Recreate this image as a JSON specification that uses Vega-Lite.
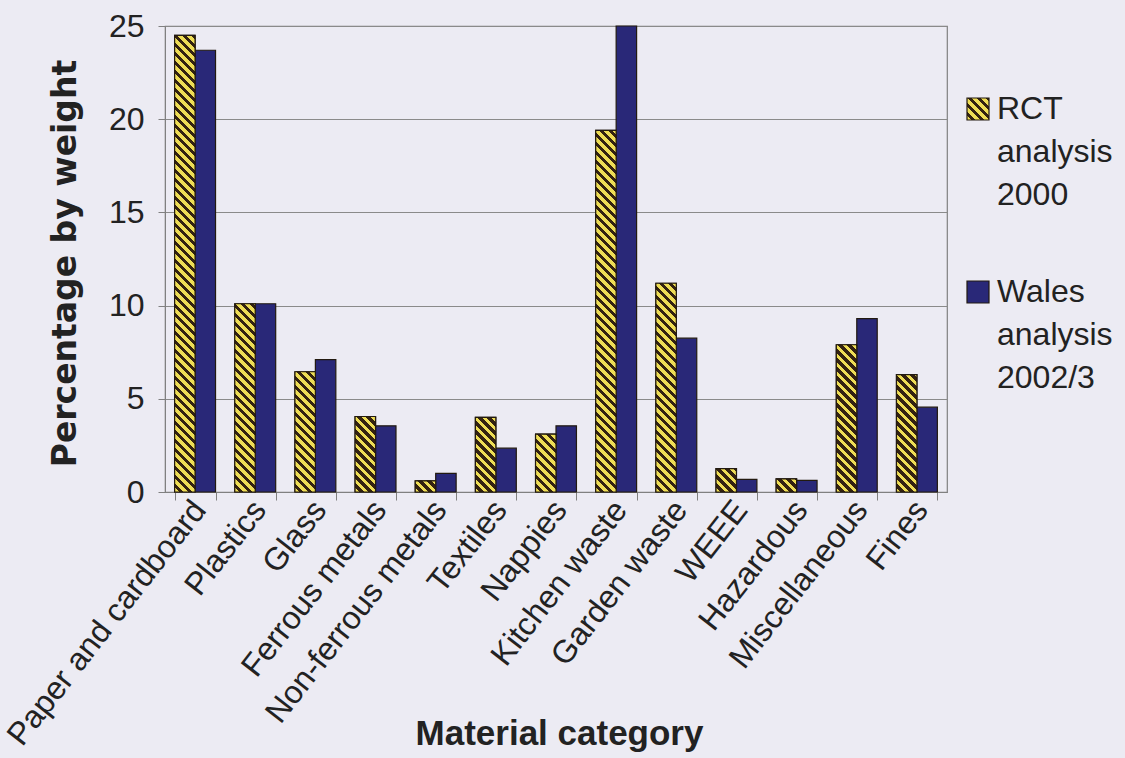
{
  "$schema": "https://vega.github.io/schema/vega-lite/v6.json",
  "width": 782,
  "height": 466,
  "autosize": {"type": "none"},
  "padding": {"left": 165, "top": 26, "right": 178, "bottom": 266},
  "background": "#ecebf3",
  "config": {
    "font": "Liberation Sans, Arial, sans-serif",
    "view": {"stroke": "#808080", "strokeWidth": 1.2}
  },
  "params": [
    {
      "name": "hatch",
      "value": [
        {"offset":0,"color":"#ed5"},{"offset":0.005,"color":"#ed5"},{"offset":0.005,"color":"#321"},{"offset":0.01,"color":"#321"},
        {"offset":0.01,"color":"#ed5"},{"offset":0.015,"color":"#ed5"},{"offset":0.015,"color":"#321"},{"offset":0.02,"color":"#321"},
        {"offset":0.02,"color":"#ed5"},{"offset":0.025,"color":"#ed5"},{"offset":0.025,"color":"#321"},{"offset":0.03,"color":"#321"},
        {"offset":0.03,"color":"#ed5"},{"offset":0.035,"color":"#ed5"},{"offset":0.035,"color":"#321"},{"offset":0.04,"color":"#321"},
        {"offset":0.04,"color":"#ed5"},{"offset":0.045,"color":"#ed5"},{"offset":0.045,"color":"#321"},{"offset":0.05,"color":"#321"},
        {"offset":0.05,"color":"#ed5"},{"offset":0.055,"color":"#ed5"},{"offset":0.055,"color":"#321"},{"offset":0.06,"color":"#321"},
        {"offset":0.06,"color":"#ed5"},{"offset":0.065,"color":"#ed5"},{"offset":0.065,"color":"#321"},{"offset":0.07,"color":"#321"},
        {"offset":0.07,"color":"#ed5"},{"offset":0.075,"color":"#ed5"},{"offset":0.075,"color":"#321"},{"offset":0.08,"color":"#321"},
        {"offset":0.08,"color":"#ed5"},{"offset":0.085,"color":"#ed5"},{"offset":0.085,"color":"#321"},{"offset":0.09,"color":"#321"},
        {"offset":0.09,"color":"#ed5"},{"offset":0.095,"color":"#ed5"},{"offset":0.095,"color":"#321"},{"offset":0.1,"color":"#321"},
        {"offset":0.1,"color":"#ed5"},{"offset":0.105,"color":"#ed5"},{"offset":0.105,"color":"#321"},{"offset":0.11,"color":"#321"},
        {"offset":0.11,"color":"#ed5"},{"offset":0.115,"color":"#ed5"},{"offset":0.115,"color":"#321"},{"offset":0.12,"color":"#321"},
        {"offset":0.12,"color":"#ed5"},{"offset":0.125,"color":"#ed5"},{"offset":0.125,"color":"#321"},{"offset":0.13,"color":"#321"},
        {"offset":0.13,"color":"#ed5"},{"offset":0.135,"color":"#ed5"},{"offset":0.135,"color":"#321"},{"offset":0.14,"color":"#321"},
        {"offset":0.14,"color":"#ed5"},{"offset":0.145,"color":"#ed5"},{"offset":0.145,"color":"#321"},{"offset":0.15,"color":"#321"},
        {"offset":0.15,"color":"#ed5"},{"offset":0.155,"color":"#ed5"},{"offset":0.155,"color":"#321"},{"offset":0.16,"color":"#321"},
        {"offset":0.16,"color":"#ed5"},{"offset":0.165,"color":"#ed5"},{"offset":0.165,"color":"#321"},{"offset":0.17,"color":"#321"},
        {"offset":0.17,"color":"#ed5"},{"offset":0.175,"color":"#ed5"},{"offset":0.175,"color":"#321"},{"offset":0.18,"color":"#321"},
        {"offset":0.18,"color":"#ed5"},{"offset":0.185,"color":"#ed5"},{"offset":0.185,"color":"#321"},{"offset":0.19,"color":"#321"},
        {"offset":0.19,"color":"#ed5"},{"offset":0.195,"color":"#ed5"},{"offset":0.195,"color":"#321"},{"offset":0.2,"color":"#321"},
        {"offset":0.2,"color":"#ed5"},{"offset":0.205,"color":"#ed5"},{"offset":0.205,"color":"#321"},{"offset":0.21,"color":"#321"},
        {"offset":0.21,"color":"#ed5"},{"offset":0.215,"color":"#ed5"},{"offset":0.215,"color":"#321"},{"offset":0.22,"color":"#321"},
        {"offset":0.22,"color":"#ed5"},{"offset":0.225,"color":"#ed5"},{"offset":0.225,"color":"#321"},{"offset":0.23,"color":"#321"},
        {"offset":0.23,"color":"#ed5"},{"offset":0.235,"color":"#ed5"},{"offset":0.235,"color":"#321"},{"offset":0.24,"color":"#321"},
        {"offset":0.24,"color":"#ed5"},{"offset":0.245,"color":"#ed5"},{"offset":0.245,"color":"#321"},{"offset":0.25,"color":"#321"},
        {"offset":0.25,"color":"#ed5"},{"offset":0.255,"color":"#ed5"},{"offset":0.255,"color":"#321"},{"offset":0.26,"color":"#321"},
        {"offset":0.26,"color":"#ed5"},{"offset":0.265,"color":"#ed5"},{"offset":0.265,"color":"#321"},{"offset":0.27,"color":"#321"},
        {"offset":0.27,"color":"#ed5"},{"offset":0.275,"color":"#ed5"},{"offset":0.275,"color":"#321"},{"offset":0.28,"color":"#321"},
        {"offset":0.28,"color":"#ed5"},{"offset":0.285,"color":"#ed5"},{"offset":0.285,"color":"#321"},{"offset":0.29,"color":"#321"},
        {"offset":0.29,"color":"#ed5"},{"offset":0.295,"color":"#ed5"},{"offset":0.295,"color":"#321"},{"offset":0.3,"color":"#321"},
        {"offset":0.3,"color":"#ed5"},{"offset":0.305,"color":"#ed5"},{"offset":0.305,"color":"#321"},{"offset":0.31,"color":"#321"},
        {"offset":0.31,"color":"#ed5"},{"offset":0.315,"color":"#ed5"},{"offset":0.315,"color":"#321"},{"offset":0.32,"color":"#321"},
        {"offset":0.32,"color":"#ed5"},{"offset":0.325,"color":"#ed5"},{"offset":0.325,"color":"#321"},{"offset":0.33,"color":"#321"},
        {"offset":0.33,"color":"#ed5"},{"offset":0.335,"color":"#ed5"},{"offset":0.335,"color":"#321"},{"offset":0.34,"color":"#321"},
        {"offset":0.34,"color":"#ed5"},{"offset":0.345,"color":"#ed5"},{"offset":0.345,"color":"#321"},{"offset":0.35,"color":"#321"},
        {"offset":0.35,"color":"#ed5"},{"offset":0.355,"color":"#ed5"},{"offset":0.355,"color":"#321"},{"offset":0.36,"color":"#321"},
        {"offset":0.36,"color":"#ed5"},{"offset":0.365,"color":"#ed5"},{"offset":0.365,"color":"#321"},{"offset":0.37,"color":"#321"},
        {"offset":0.37,"color":"#ed5"},{"offset":0.375,"color":"#ed5"},{"offset":0.375,"color":"#321"},{"offset":0.38,"color":"#321"},
        {"offset":0.38,"color":"#ed5"},{"offset":0.385,"color":"#ed5"},{"offset":0.385,"color":"#321"},{"offset":0.39,"color":"#321"},
        {"offset":0.39,"color":"#ed5"},{"offset":0.395,"color":"#ed5"},{"offset":0.395,"color":"#321"},{"offset":0.4,"color":"#321"},
        {"offset":0.4,"color":"#ed5"},{"offset":0.405,"color":"#ed5"},{"offset":0.405,"color":"#321"},{"offset":0.41,"color":"#321"},
        {"offset":0.41,"color":"#ed5"},{"offset":0.415,"color":"#ed5"},{"offset":0.415,"color":"#321"},{"offset":0.42,"color":"#321"},
        {"offset":0.42,"color":"#ed5"},{"offset":0.425,"color":"#ed5"},{"offset":0.425,"color":"#321"},{"offset":0.43,"color":"#321"},
        {"offset":0.43,"color":"#ed5"},{"offset":0.435,"color":"#ed5"},{"offset":0.435,"color":"#321"},{"offset":0.44,"color":"#321"},
        {"offset":0.44,"color":"#ed5"},{"offset":0.445,"color":"#ed5"},{"offset":0.445,"color":"#321"},{"offset":0.45,"color":"#321"},
        {"offset":0.45,"color":"#ed5"},{"offset":0.455,"color":"#ed5"},{"offset":0.455,"color":"#321"},{"offset":0.46,"color":"#321"},
        {"offset":0.46,"color":"#ed5"},{"offset":0.465,"color":"#ed5"},{"offset":0.465,"color":"#321"},{"offset":0.47,"color":"#321"},
        {"offset":0.47,"color":"#ed5"},{"offset":0.475,"color":"#ed5"},{"offset":0.475,"color":"#321"},{"offset":0.48,"color":"#321"},
        {"offset":0.48,"color":"#ed5"},{"offset":0.485,"color":"#ed5"},{"offset":0.485,"color":"#321"},{"offset":0.49,"color":"#321"},
        {"offset":0.49,"color":"#ed5"},{"offset":0.495,"color":"#ed5"},{"offset":0.495,"color":"#321"},{"offset":0.5,"color":"#321"},
        {"offset":0.5,"color":"#ed5"},{"offset":0.505,"color":"#ed5"},{"offset":0.505,"color":"#321"},{"offset":0.51,"color":"#321"},
        {"offset":0.51,"color":"#ed5"},{"offset":0.515,"color":"#ed5"},{"offset":0.515,"color":"#321"},{"offset":0.52,"color":"#321"},
        {"offset":0.52,"color":"#ed5"},{"offset":0.525,"color":"#ed5"},{"offset":0.525,"color":"#321"},{"offset":0.53,"color":"#321"},
        {"offset":0.53,"color":"#ed5"},{"offset":0.535,"color":"#ed5"},{"offset":0.535,"color":"#321"},{"offset":0.54,"color":"#321"},
        {"offset":0.54,"color":"#ed5"},{"offset":0.545,"color":"#ed5"},{"offset":0.545,"color":"#321"},{"offset":0.55,"color":"#321"},
        {"offset":0.55,"color":"#ed5"},{"offset":0.555,"color":"#ed5"},{"offset":0.555,"color":"#321"},{"offset":0.56,"color":"#321"},
        {"offset":0.56,"color":"#ed5"},{"offset":0.565,"color":"#ed5"},{"offset":0.565,"color":"#321"},{"offset":0.57,"color":"#321"},
        {"offset":0.57,"color":"#ed5"},{"offset":0.575,"color":"#ed5"},{"offset":0.575,"color":"#321"},{"offset":0.58,"color":"#321"},
        {"offset":0.58,"color":"#ed5"},{"offset":0.585,"color":"#ed5"},{"offset":0.585,"color":"#321"},{"offset":0.59,"color":"#321"},
        {"offset":0.59,"color":"#ed5"},{"offset":0.595,"color":"#ed5"},{"offset":0.595,"color":"#321"},{"offset":0.6,"color":"#321"}
      ]
    }
  ],
  "data": {
    "values": [
      {"category": "Paper and cardboard", "series": "RCT analysis 2000", "pct": 24.5},
      {"category": "Plastics", "series": "RCT analysis 2000", "pct": 10.1},
      {"category": "Glass", "series": "RCT analysis 2000", "pct": 6.45},
      {"category": "Ferrous metals", "series": "RCT analysis 2000", "pct": 4.05},
      {"category": "Non-ferrous metals", "series": "RCT analysis 2000", "pct": 0.6},
      {"category": "Textiles", "series": "RCT analysis 2000", "pct": 4.0},
      {"category": "Nappies", "series": "RCT analysis 2000", "pct": 3.1},
      {"category": "Kitchen waste", "series": "RCT analysis 2000", "pct": 19.4},
      {"category": "Garden waste", "series": "RCT analysis 2000", "pct": 11.2},
      {"category": "WEEE", "series": "RCT analysis 2000", "pct": 1.25},
      {"category": "Hazardous", "series": "RCT analysis 2000", "pct": 0.7},
      {"category": "Miscellaneous", "series": "RCT analysis 2000", "pct": 7.9},
      {"category": "Fines", "series": "RCT analysis 2000", "pct": 6.3},
      {"category": "Paper and cardboard", "series": "Wales analysis 2002/3", "pct": 23.7},
      {"category": "Plastics", "series": "Wales analysis 2002/3", "pct": 10.1},
      {"category": "Glass", "series": "Wales analysis 2002/3", "pct": 7.1},
      {"category": "Ferrous metals", "series": "Wales analysis 2002/3", "pct": 3.55},
      {"category": "Non-ferrous metals", "series": "Wales analysis 2002/3", "pct": 1.0},
      {"category": "Textiles", "series": "Wales analysis 2002/3", "pct": 2.35},
      {"category": "Nappies", "series": "Wales analysis 2002/3", "pct": 3.55},
      {"category": "Kitchen waste", "series": "Wales analysis 2002/3", "pct": 25.0},
      {"category": "Garden waste", "series": "Wales analysis 2002/3", "pct": 8.25},
      {"category": "WEEE", "series": "Wales analysis 2002/3", "pct": 0.68},
      {"category": "Hazardous", "series": "Wales analysis 2002/3", "pct": 0.62},
      {"category": "Miscellaneous", "series": "Wales analysis 2002/3", "pct": 9.3},
      {"category": "Fines", "series": "Wales analysis 2002/3", "pct": 4.55}
    ]
  },
  "encoding": {
    "x": {
      "field": "category",
      "type": "nominal",
      "sort": null,
      "title": "Material category",
      "scale": {"paddingInner": 0.32, "paddingOuter": 0.16},
      "axis": {
        "labelAngle": -52,
        "labelAlign": "right",
        "labelBaseline": "middle",
        "labelFontSize": 32,
        "labelColor": "#222222",
        "labelPadding": 4,
        "labelOffset": 4,
        "labelLimit": 0,
        "labelOverlap": false,
        "tickBand": "extent",
        "tickSize": 8,
        "tickColor": "#808080",
        "domainColor": "#808080",
        "grid": false,
        "titleFontSize": 35,
        "titleFontWeight": "bold",
        "titleColor": "#222222",
        "titleX": 394,
        "titleY": 241,
        "titleBaseline": "middle"
      }
    },
    "xOffset": {
      "field": "series",
      "type": "nominal",
      "sort": null,
      "scale": {"paddingInner": 0, "paddingOuter": 0}
    },
    "y": {
      "field": "pct",
      "type": "quantitative",
      "title": "Percentage by weight",
      "scale": {"domain": [0, 25], "nice": false},
      "axis": {
        "values": [0, 5, 10, 15, 20, 25],
        "grid": true,
        "gridColor": "#8a8a8a",
        "gridWidth": 1.2,
        "domainColor": "#808080",
        "tickColor": "#808080",
        "tickSize": 7,
        "labelFontSize": 32,
        "labelColor": "#222222",
        "labelPadding": 14,
        "labelOverlap": false,
        "titleFont": "DejaVu Sans",
        "titleFontWeight": "bold",
        "titleFontSize": 33,
        "titleColor": "#222222",
        "titleX": -100,
        "titleY": 237,
        "titleBaseline": "middle"
      }
    }
  },
  "layer": [
    {
      "mark": {"type": "bar", "stroke": "#221a10", "strokeWidth": 1.2},
      "encoding": {
        "fill": {
          "field": "series",
          "type": "nominal",
          "sort": null,
          "scale": {
            "range": [
              {"expr": "{gradient: 'linear', x1: 0, y1: 1, x2: 20.45, y2: -19.45, stops: hatch}"},
              "#292878"
            ]
          },
          "legend": {
            "title": null,
            "orient": "none",
            "legendX": 797,
            "legendY": 67,
            "padding": 0,
            "symbolType": "square",
            "symbolSize": 484,
            "symbolStrokeColor": "#221a10",
            "symbolStrokeWidth": 1.2,
            "symbolOpacity": 1,
            "labelFontSize": 32,
            "labelColor": "#222222",
            "labelOffset": 3,
            "labelBaseline": "top",
            "labelLimit": 0,
            "labelExpr": "split(datum.label, ' ')",
            "rowPadding": 65,
            "encode": {
              "labels": {"update": {"lineHeight": {"value": 43}, "dy": {"value": -15}}}
            }
          }
        }
      }
    },
    {
      "transform": [{"filter": "datum.series === 'RCT analysis 2000'"}],
      "mark": {"type": "bar", "stroke": "#221a10", "strokeWidth": 1.2},
      "encoding": {
        "fill": {
          "value": {
            "expr": "{gradient: 'linear', x1: 0, y1: 1, x2: 900 * bandwidth('xOffset') / (pow(bandwidth('xOffset'), 2) + pow(scale('y', 0) - scale('y', datum.pct), 2)), y2: 1 - 900 * (scale('y', 0) - scale('y', datum.pct)) / (pow(bandwidth('xOffset'), 2) + pow(scale('y', 0) - scale('y', datum.pct), 2)), stops: hatch}"
          }
        }
      }
    }
  ]
}
